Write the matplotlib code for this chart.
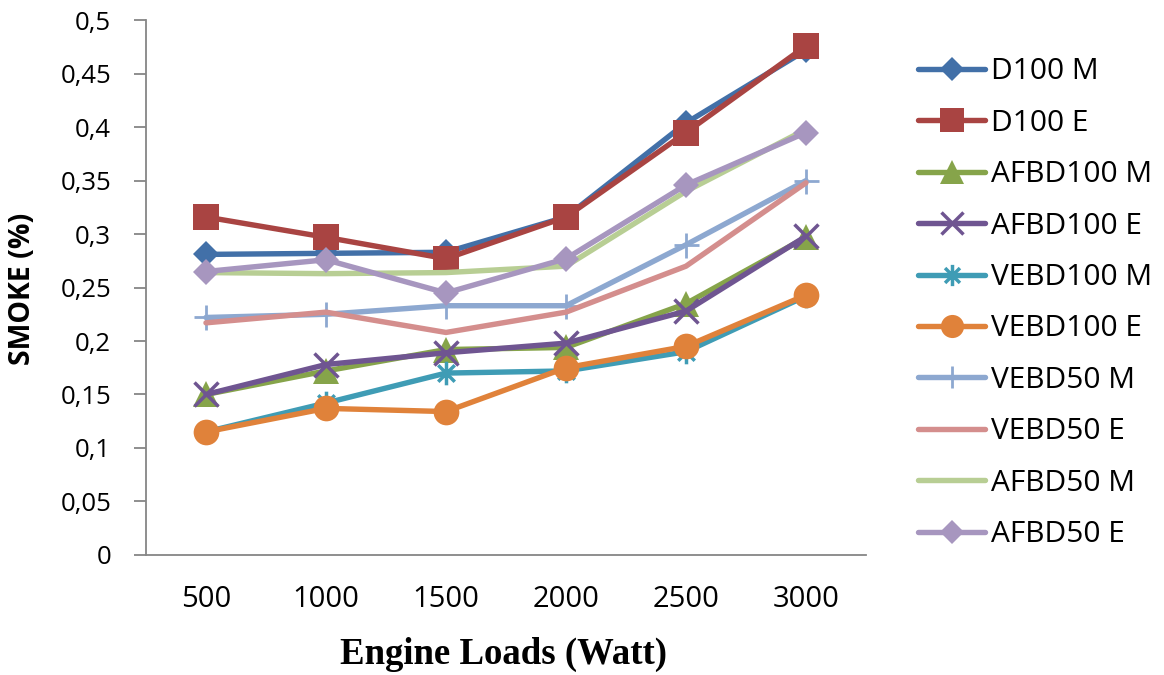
import matplotlib
matplotlib.use("Agg")
import matplotlib.pyplot as plt
from matplotlib.path import Path

# Engine loads on the category axis
loads = ["500", "1000", "1500", "2000", "2500", "3000"]

# Smoke readings (%) per fuel blend
d100_m = [0.281, 0.282, 0.283, 0.316, 0.404, 0.472]
d100_e = [0.316, 0.297, 0.277, 0.316, 0.395, 0.476]
afbd100_m = [0.150, 0.172, 0.192, 0.194, 0.235, 0.297]
afbd100_e = [0.150, 0.178, 0.189, 0.198, 0.228, 0.298]
vebd100_m = [0.115, 0.142, 0.170, 0.172, 0.190, 0.242]
vebd100_e = [0.115, 0.137, 0.134, 0.175, 0.195, 0.243]
vebd50_m = [0.222, 0.225, 0.233, 0.233, 0.290, 0.350]
vebd50_e = [0.217, 0.227, 0.208, 0.227, 0.270, 0.348]
afbd50_m = [0.264, 0.263, 0.264, 0.270, 0.340, 0.398]
afbd50_e = [0.265, 0.276, 0.245, 0.277, 0.346, 0.395]

# asterisk marker: vertical stroke plus an x
star = Path([(0, -1), (0, 1), (-0.7, -0.7), (0.7, 0.7), (-0.7, 0.7), (0.7, -0.7)],
            [Path.MOVETO, Path.LINETO, Path.MOVETO, Path.LINETO, Path.MOVETO, Path.LINETO])

series = [
    ("D100 M", d100_m, "#4270A8", "D", 13.5, 0),
    ("D100 E", d100_e, "#A94442", "s", 18.5, 0),
    ("AFBD100 M", afbd100_m, "#86A44A", "^", 18.5, 0),
    ("AFBD100 E", afbd100_e, "#6F5591", "x", 17, 2.5),
    ("VEBD100 M", vebd100_m, "#3F9CB5", star, 17, 2.5),
    ("VEBD100 E", vebd100_e, "#E0823A", "o", 18.5, 0),
    ("VEBD50 M", vebd50_m, "#8DA8D0", "+", 18, 2),
    ("VEBD50 E", vebd50_e, "#D48E8D", None, 0, 0),
    ("AFBD50 M", afbd50_m, "#B8CE94", None, 0, 0),
    ("AFBD50 E", afbd50_e, "#A796BF", "D", 13.5, 0),
]

fig = plt.figure(figsize=(11.64, 6.75), dpi=100)
ax = fig.add_axes([0.1254, 0.178, 0.6186, 0.792])

x = list(range(len(loads)))
for name, vals, col, mk, ms, mew in series:
    ax.plot(x, vals, color=col, lw=3.9, marker=mk, markersize=ms,
            markerfacecolor=col, markeredgecolor=col, markeredgewidth=mew,
            label=name, solid_joinstyle="round", solid_capstyle="round")

ax.set_xlim(-0.5, 5.5)
ax.set_ylim(0, 0.5)
ax.set_xticks(x)
ax.set_xticklabels(loads)
yt = [i * 0.05 for i in range(11)]
ax.set_yticks(yt)
ax.set_yticklabels(["0"] + [("%g" % v).replace(".", ",") for v in yt[1:]])

for s in ["top", "right"]:
    ax.spines[s].set_visible(False)
for s in ["left", "bottom"]:
    ax.spines[s].set_color("#868686")
    ax.spines[s].set_linewidth(1.3)

ax.tick_params(axis="y", length=9, width=1.3, color="#868686", pad=16,
               labelsize=18.5)
ax.tick_params(axis="x", length=0, pad=22, labelsize=21)
for lbl in ax.get_xticklabels() + ax.get_yticklabels():
    lbl.set_fontfamily("Open Sans")

ax.set_ylabel("SMOKE (%)", fontsize=20.5, fontweight="bold", family="Open Sans")
ax.yaxis.label.set_va("center")
ax.yaxis.set_label_coords(-0.171, 0.497)
ax.set_xlabel("Engine Loads (Watt)", fontsize=26.5, fontweight="bold",
              family="Liberation Serif")
ax.xaxis.label.set_va("center")
ax.xaxis.set_label_coords(0.497, -0.187)

fig.legend(loc="upper left", bbox_to_anchor=(0.776, 0.937), frameon=False,
           prop={"family": "Open Sans", "size": 21.5}, handlelength=2.25,
           handletextpad=0.2, labelspacing=0.75, borderpad=0, markerscale=0.9)

fig.savefig("out.png", dpi=100)
